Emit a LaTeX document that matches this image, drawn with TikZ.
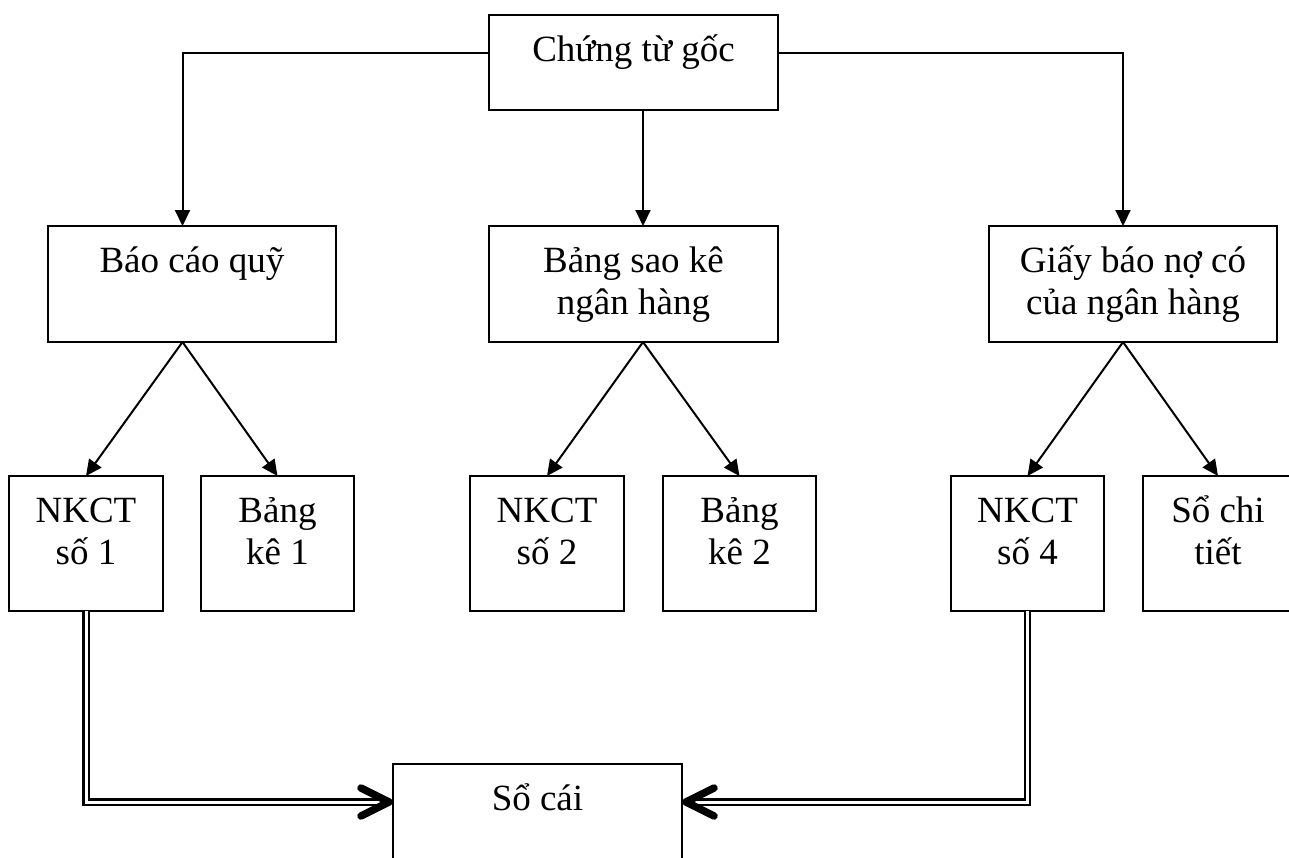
\documentclass[tikz,border=0pt]{standalone}
\usepackage{fontspec}
\setmainfont{Liberation Serif}
\usetikzlibrary{arrows.meta}

\newcommand{\boxtxt}[3]{\parbox[c][#2pt][t]{#1pt}{\centering\rule{0pt}{46pt}#3}}

\begin{document}
\begin{tikzpicture}[x=1pt, y=-1pt,
	box/.style = {draw, line width=2.4pt, inner sep=0pt, outer sep=0pt, anchor=north west, font=\fontsize{37}{42}\selectfont},
	arr/.style = {line width=2pt, -{Triangle[length=16pt, width=15pt]}},
	dline/.style = {line width=2.2pt, double, double distance=3pt},
	chev/.style = {line width=7.5pt, line cap=round, line join=round}]
	\useasboundingbox (0,0) rectangle (1289,857);
	\clip (0,0) rectangle (1289,857);

	\node[box] (goc) at (489,15) {\boxtxt{289}{95}{Chứng từ gốc}};

	\node[box] (bcq) at (48,226) {\boxtxt{288}{116}{Báo cáo quỹ}};
	\node[box] (sk) at (489,226) {\boxtxt{289}{116}{Bảng sao kê\\ngân hàng}};
	\node[box] (gb) at (989,226) {\boxtxt{288}{116}{Giấy báo nợ có\\của ngân hàng}};

	\node[box] (nk1) at (9,476) {\boxtxt{154}{135}{NKCT\\số 1}};
	\node[box] (bk1) at (201,476) {\boxtxt{153}{135}{Bảng\\kê 1}};
	\node[box] (nk2) at (470,476) {\boxtxt{154}{135}{NKCT\\số 2}};
	\node[box] (bk2) at (663,476) {\boxtxt{153}{135}{Bảng\\kê 2}};
	\node[box] (nk4) at (951,476) {\boxtxt{153}{135}{NKCT\\số 4}};
	\node[box] (sct) at (1143,476) {\boxtxt{150}{135}{Sổ chi\\tiết}};

	\node[box] (socai) at (393,764) {\boxtxt{289}{116}{Sổ cái}};

	% chung tu goc -> level 2
	\draw[arr] ([yshift=9.5pt]goc.west) -| ([xshift=-9.5pt]bcq.north);
	\draw[arr] ([xshift=9.5pt]goc.south) -- ([xshift=9.5pt]sk.north);
	\draw[arr] ([yshift=9.5pt]goc.east) -| ([xshift=-10pt]gb.north);

	% level 2 -> level 3
	\foreach \a/\b/\c/\s in {bcq/nk1/bk1/-9.5, sk/nk2/bk2/9.5, gb/nk4/sct/-10}
	{
		\draw[arr] ([xshift=\s pt]\a.south) -- (\b.north);
		\draw[arr] ([xshift=\s pt]\a.south) -- (\c.north);
	}

	% into so cai
	\coordinate (inL) at ([yshift=-38pt]socai.north west);
	\coordinate (inR) at ([yshift=-38pt]socai.north east);
	\draw[dline] (nk1.south) |- ([xshift=-6pt]inL);
	\draw[dline] (nk4.south) |- ([xshift=6pt]inR);
	\draw[chev] ([shift={(-32pt,14pt)}]inL) -- ([xshift=-4pt]inL) -- ([shift={(-32pt,-14pt)}]inL);
	\draw[chev] ([shift={(32pt,14pt)}]inR) -- ([xshift=4pt]inR) -- ([shift={(32pt,-14pt)}]inR);
\end{tikzpicture}
\end{document}
